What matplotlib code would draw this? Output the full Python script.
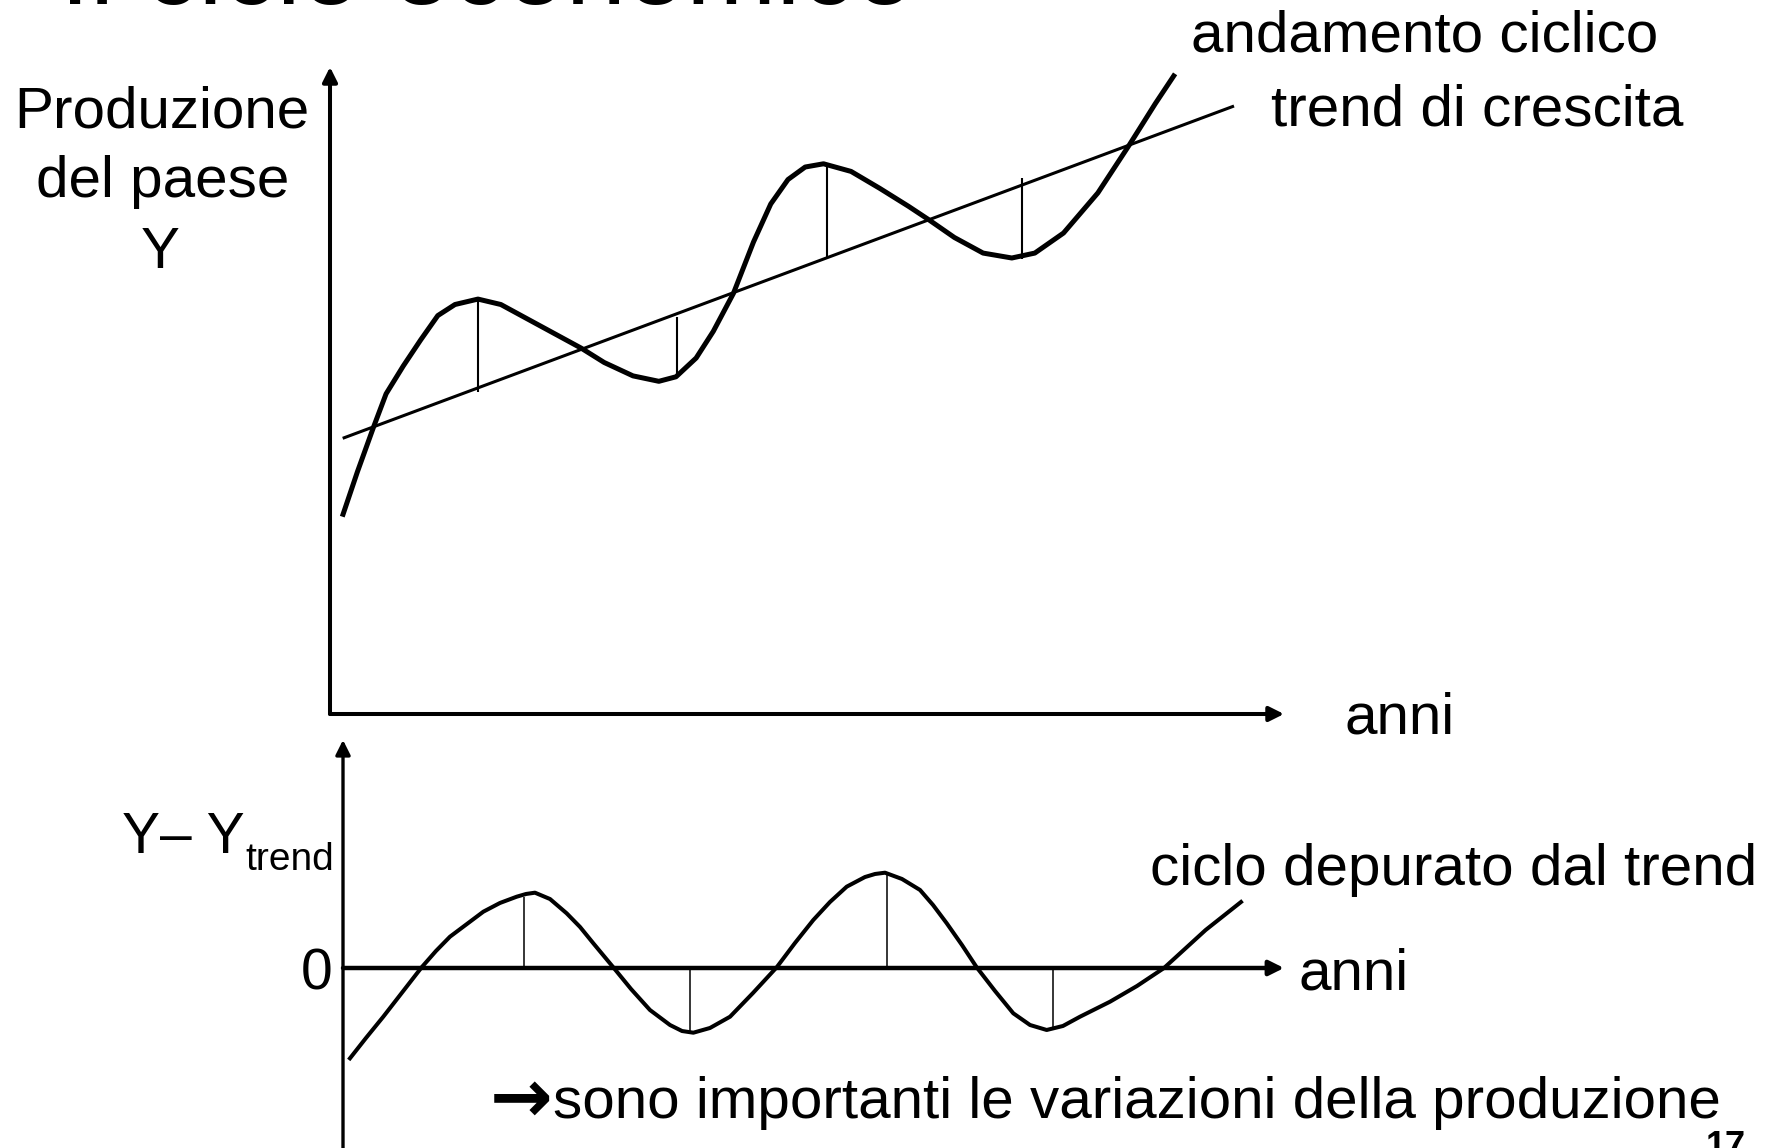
# coding:utf-8
import matplotlib
import matplotlib.pyplot as plt
plt.switch_backend('agg')

W, H = 1771, 1148
FONT = ['Liberation Sans', 'DejaVu Sans']

# top panel: output Y and its growth trend (anni 0..10, Y 0..100)
anni = [0.137, 0.287, 0.456, 0.588, 0.768, 0.950, 1.130, 1.310, 1.551, 1.791,
        2.092, 2.393, 2.634, 2.874, 3.176, 3.447, 3.627, 3.838, 4.018, 4.229,
        4.439, 4.620, 4.801, 4.981, 5.173, 5.462, 5.763, 6.064, 6.275, 6.545,
        6.846, 7.147, 7.388, 7.689, 8.049, 8.381, 8.651, 8.844]
produzione = [30.87, 37.42, 44.33, 49.49, 53.79, 57.81, 61.58, 63.29, 64.13, 63.29,
              60.88, 58.47, 56.54, 54.33, 52.26, 51.42, 52.12, 55.02, 59.15, 65.02,
              72.95, 78.83, 82.61, 84.54, 85.04, 83.86, 81.24, 78.47, 76.41, 73.65,
              71.24, 70.48, 71.24, 74.34, 80.54, 88.01, 94.34, 98.62]
trend_x = [0.133, 9.476]
trend_y = [42.61, 93.97]
# distance from trend at peaks / troughs
gap_x = [1.551, 3.634, 5.207, 7.257]
gap_curve = [64.14, 52.13, 85.01, 70.28]
gap_trend = [49.81, 61.41, 70.59, 82.80]

# bottom panel: Y - Y_trend
anni_ciclo = [0.074, 0.244, 0.428, 0.836, 0.988, 1.137, 1.491, 1.668, 1.846, 1.945,
              2.040, 2.200, 2.377, 2.519, 2.660, 2.872, 3.061, 3.262, 3.475, 3.603,
              3.723, 3.900, 4.113, 4.357, 4.609, 4.803, 4.998, 5.175, 5.353, 5.547,
              5.654, 5.760, 5.940, 6.132, 6.270, 6.416, 6.578, 6.734, 6.929, 7.123,
              7.301, 7.478, 7.651, 7.832, 8.151, 8.438, 8.725, 9.167, 9.543]
ciclo = [-13.96, -10.82, -7.53, 0.11, 2.63, 4.84, 8.70, 10.05, 11.02, 11.44,
         11.64, 10.66, 8.45, 6.34, 3.82, 0.11, -3.25, -6.49, -8.81, -9.74,
         -10.00, -9.27, -7.53, -3.86, 0.11, 3.86, 7.42, 10.20, 12.57, 14.06,
         14.53, 14.73, 13.76, 12.06, 9.74, 6.91, 3.55, 0.11, -3.55, -7.00,
         -8.81, -9.58, -8.96, -7.53, -5.21, -2.78, 0.0, 5.87, 10.20]
ciclo_gap_x = [1.923, 3.687, 5.781, 7.545]
ciclo_gap_y = [11.02, -9.74, 14.37, -9.43]


def fx(x):
    return x / float(W)


def fy(y):
    return 1 - y / float(H)


def axes_px(fig, x0, x1, y0, y1):
    # pixel box (top-left origin) -> figure axes
    return fig.add_axes([fx(x0), fy(y1), fx(x1 - x0), (y1 - y0) / float(H)])


def arrow(ax, start, end, lw, coords='axes fraction'):
    ax.annotate('', xy=end, xytext=start, xycoords=coords, textcoords=coords,
                arrowprops=dict(arrowstyle='-|>', lw=lw, color='k',
                                mutation_scale=22, shrinkA=0, shrinkB=0),
                annotation_clip=False)


def label(fig, x, y, s, size=42, ha='center', family=FONT, **kw):
    fig.text(fx(x), fy(y), s, fontsize=size, ha=ha, va='baseline',
             family=family, color='k', **kw)


fig = plt.figure(figsize=(W / 100.0, H / 100.0), dpi=100)

ax1 = axes_px(fig, 330, 1284, 67, 714)
ax1.set_xlim(0, 10)
ax1.set_ylim(0, 100)
ax1.axis('off')
ax1.plot(trend_x, trend_y, color='k', lw=2.2, solid_capstyle='butt')
ax1.plot(anni, produzione, color='k', lw=3.6, solid_joinstyle='round')
ax1.vlines(gap_x, gap_trend, gap_curve, color='k', lw=1.5)
arrow(ax1, (0, 0), (0, 1), 2.9)
arrow(ax1, (0, 0), (1, 0), 2.9)

ax2 = axes_px(fig, 343, 1284, 740, H)
ax2.set_xlim(0, 10)
ax2.set_ylim(-(H - 968) / 6.47, (968 - 740) / 6.47)
ax2.axis('off')
ax2.plot(anni_ciclo, ciclo, color='k', lw=2.9, solid_joinstyle='round')
ax2.vlines(ciclo_gap_x, 0, ciclo_gap_y, color='k', lw=1.1)
arrow(ax2, (0, 0), (0, 1), 2.4)
arrow(ax2, (0, 0), (1, 0), 3.2, coords=('axes fraction', 'data'))

# texts
label(fig, 60, 4, 'Il ciclo economico', size=78, ha='left')
label(fig, 162, 127, 'Produzione')
label(fig, 163, 197, 'del paese')
label(fig, 160, 268, 'Y')
label(fig, 1425, 52, 'andamento ciclico')
label(fig, 1477, 126, 'trend di crescita')
label(fig, 1400, 734, 'anni')
label(fig, 122, 853, 'Y\u2013 Y', size=41, ha='left')
label(fig, 245, 870, 'trend', size=28, ha='left')
label(fig, 317, 989, '0', size=41)
label(fig, 1454, 885, 'ciclo depurato dal trend')
label(fig, 1354, 989, 'anni')
label(fig, 490, 1122, '\u2192', ha='left', family=['DejaVu Sans'], size=54,
      weight='bold')
label(fig, 553, 1118, 'sono importanti le variazioni della produzione', ha='left')
label(fig, 1726, 1157, '17', size=26, weight='bold')

fig.savefig('out.png', dpi=100)
